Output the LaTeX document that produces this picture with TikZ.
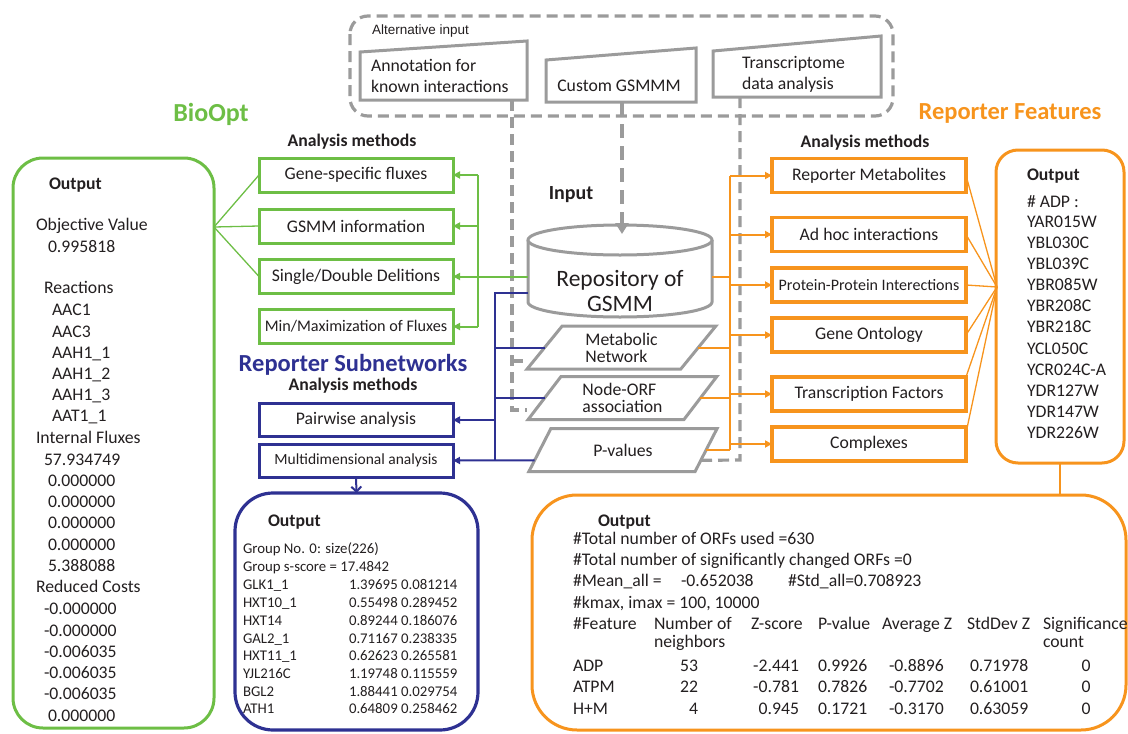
\documentclass[tikz,border=0pt]{standalone}
\usepackage{fontspec}
\setmainfont{Carlito}
\newfontfamily\arialfont{Liberation Sans}
\usetikzlibrary{arrows.meta,shapes.geometric,calc}
\definecolor{cgreen}{HTML}{6DBE45}
\definecolor{corange}{HTML}{F7941D}
\definecolor{cblue}{HTML}{2E3192}
\definecolor{cgray}{HTML}{9B9B9B}
\definecolor{ctext}{HTML}{231F20}
\newcommand\myfs[1]{\fontsize{#1}{#1}\selectfont}
\begin{document}
\begin{tikzpicture}[x=1pt,y=-1pt,
  every node/.style={text=ctext, inner sep=0pt, outer sep=0pt},
  txt/.style={anchor=west, font=\myfs{17.7}, text height=14pt, text depth=3pt},
  txte/.style={txt, anchor=east},
  txtc/.style={txt, anchor=center},
  btxt/.style={anchor=west, font=\myfs{14.8}, text height=11.5pt, text depth=2.5pt},
  head/.style={font=\myfs{17.7}\bfseries},
  gbox/.style={draw=cgreen, line width=3pt, minimum width=194pt, minimum height=34pt, font=\myfs{17.7}},
  obox/.style={draw=corange, line width=3.2pt, minimum width=194pt, minimum height=34pt, font=\myfs{17.7}},
  bbox/.style={draw=cblue, line width=3pt, minimum width=194pt, minimum height=33pt, font=\myfs{17.7}},
  para/.style={trapezium, trapezium left angle=54, trapezium right angle=126, trapezium stretches=true,
    draw=cgray, line width=3pt, minimum width=189pt, minimum height=43pt, align=left,
    font=\fontsize{17.7}{17}\selectfont, fill=white},
  outbox/.style={line width=3pt, fill=none},
  gdash/.style={draw=cgray, line width=3.2pt, dash pattern=on 11pt off 6pt},
  inshape/.style={draw=cgray, line width=3pt, fill=white},
  gcon/.style={draw=cgreen, line width=2pt},
  garr/.style={gcon, -{Triangle[length=7pt,width=7pt]}},
  gthin/.style={draw=cgreen, line width=1.3pt},
  ocon/.style={draw=corange, line width=2pt},
  oarr/.style={ocon, -{Triangle[length=7pt,width=7pt]}},
  othin/.style={draw=corange, line width=1.3pt},
  bcon/.style={draw=cblue, line width=2pt},
  barr/.style={bcon, -{Triangle[length=7pt,width=7pt]}},
  cyl/.style={draw=cgray, line width=3pt, fill=white}
]
\useasboundingbox (0,0) rectangle (1128,734);

% ---------- alternative input ----------
\draw[inshape] (360,52) -- (527,41) -- (527,100) -- (360,100) -- cycle;
\draw[inshape] (546,60) -- (696,48) -- (696,102) -- (546,102) -- cycle;
\draw[inshape] (713,51) -- (881,36) -- (881,97) -- (713,97) -- cycle;
\node[txt] (ann1) at (371,66) {Annotation for};
\node[txt] (ann2) at (371,87) {known interactions};
\node[txtc] (cust) at (619,86) {Custom GSMMM};
\node[txt] (tr1) at (742,63) {Transcriptome};
\node[txt] (tr2) at (742,84) {data analysis};
\node[anchor=west, font=\arialfont\myfs{13.5}] (alt) at (372,31) {Alternative input};
\draw[gdash, rounded corners=18pt] (350,16) rectangle (893,116);

% ---------- titles ----------
\node[font=\myfs{26}\bfseries, text=cgreen] (bioopt) at (211,114) {BioOpt};
\node[font=\myfs{24.5}\bfseries, text=corange] (repfeat) at (1010,113) {Reporter Features};
\node[font=\myfs{24.5}\bfseries, text=cblue] (repsub) at (353,365) {Reporter Subnetworks};
\node[head] (amg) at (352,142) {Analysis methods};
\node[head] (amb) at (353,386) {Analysis methods};
\node[head] (amo) at (865,143) {Analysis methods};
\node[font=\myfs{20}\bfseries] (input) at (571,195) {Input};

% ---------- central input ----------
\node[minimum width=184pt, minimum height=62pt] (repo) at (620,271) {};
\node[para] (met) at (621.5,347.5) {Metabolic\\Network};
\node[para] (nodeorf) at (622.5,398) {Node-ORF\\association};
\node[para] (pval) at (623,450) {P-values};

% dashed input lines
\coordinate (annb) at (512,100);
\coordinate (dl1) at (512,361);
\coordinate (dl2) at (512,410);
\draw[gdash] (annb) -- (dl2) -- ++(15,0);
\draw[gdash] (dl1) -- ++(15,0);
\coordinate (trb) at (740,97);
\coordinate (trc) at (740,460);
\draw[gdash] (trb) -- (trc) -- ($(pval.bottom right corner)!0.26!(pval.top right corner)$);
\coordinate (custb) at (622,102);
\draw[gdash, line width=4pt, dash pattern=on 14pt off 8pt] (custb) -- (622,224);

% cylinder
\draw[cyl] (repo.north west) -- (repo.south west) arc[start angle=180, end angle=360, x radius=92pt, y radius=15pt] -- (repo.north east);
\draw[cyl] (repo.north) ellipse[x radius=92pt, y radius=15pt];
\node[align=center, font=\fontsize{23.5}{25}\selectfont] (repotxt) at (620,291) {Repository of\\GSMM};
\draw[draw=cgray, line width=4pt, -{Triangle[length=11pt,width=13pt]}] (622,222) -- (622,234);

% ---------- BioOpt boxes ----------
\node[gbox] (gene) at (356,175) {Gene-specific fluxes};
\node[gbox] (gsmm) at (356,226) {GSMM information};
\node[gbox] (single) at (356,276.5) {Single/Double Delitions};
\node[gbox, font=\myfs{16.2}] (mm) at (356,326.5) {Min/Maximization of Fluxes};

% ---------- Reporter subnetworks boxes ----------
\node[bbox] (pair) at (356,420) {Pairwise analysis};
\node[bbox, font=\myfs{15.5}] (multi) at (356,460.5) {Multidimensional analysis};

% ---------- Reporter features boxes ----------
\node[obox] (rm) at (869,175.5) {Reporter Metabolites};
\node[obox] (ah) at (869,234.5) {Ad hoc interactions};
\node[obox, font=\myfs{16}] (ppi) at (869,285) {Protein-Protein Interections};
\node[obox] (go) at (869,335) {Gene Ontology};
\node[obox] (tf) at (869,394) {Transcription Factors};
\node[obox] (cx) at (869,444) {Complexes};

% ---------- output boxes ----------
\node[outbox, draw=cgreen, rounded corners=30pt, minimum width=201pt, minimum height=570pt] (gout) at (113.5,443) {};
\node[outbox, draw=corange, rounded corners=22pt, minimum width=128pt, minimum height=313pt] (rout) at (1060,306.5) {};
\node[outbox, draw=cblue, line width=3.2pt, rounded corners=38pt, minimum width=243pt, minimum height=237pt] (bout) at (356.5,611.5) {};
\node[outbox, draw=corange, rounded corners=45pt, minimum width=594pt, minimum height=235pt] (obig) at (829,612.5) {};

% ---------- green connectors ----------
\coordinate (gv) at (478,177);
\draw[gcon] (gene.east -| gv) -- (mm.east -| gv);
\foreach \n in {gene,gsmm,mm} \draw[garr] (\n.east -| gv) -- (\n.east);
\draw[garr] (repo.west |- single.east) -- (single.east);
\coordinate (gfan) at (214,227);
\foreach \n in {gene,gsmm,single} \draw[gthin] (gfan) -- (\n.west);

% ---------- blue connectors ----------
\coordinate (bv) at (495,293);
\draw[bcon] ($(repo.west)+(0,22)$) -- (bv) -- (bv |- multi.east);
\draw[bcon] (bv |- met.west) -- (met.west);
\draw[bcon] (bv |- nodeorf.west) -- (nodeorf.west);
\draw[barr] (bv |- pair.east) -- (pair.east);
\draw[barr] ($(pval.bottom left corner)!0.26!(pval.top left corner)$) -- (multi.east);
\draw[bcon, -{Straight Barb[length=5pt,width=10pt]}] (multi.south) -- (bout.north);

% ---------- orange connectors ----------
\coordinate (ov) at (730,176);
\draw[ocon] (ov) -- (pval.east -| ov);
\draw[ocon] (repo.east |- single.east) -- (ov |- single.east);
\draw[ocon] (met.east) -- (met.east -| ov);
\draw[ocon] (nodeorf.east) -- (nodeorf.east -| ov);
\draw[ocon] (pval.east) -- (pval.east -| ov);
\foreach \n in {rm,ah,ppi,go,tf,cx} \draw[oarr] (ov |- \n.west) -- (\n.west);
\coordinate (ofan) at (997,287);
\foreach \n in {rm.east,ah.east,ppi.east,go.east,tf.north east} \draw[othin] (\n) -- (ofan);
\draw[othin] ($(cx.north east)+(0,6)$) -- (ofan);
\draw[ocon] (rout.south) -- (rout.south |- obig.north);

% ---------- BioOpt output text ----------
\node[txt, font=\myfs{17.7}\bfseries] (gouth) at (49,184) {Output};
\foreach \x/\y/\t [count=\i] in {36/225/Objective Value, 48/247/0.995818, 44/288/Reactions,
  52/310/AAC1, 52/332/AAC3, 52/353/AAH1\_1, 52/374/AAH1\_2, 52/395/AAH1\_3, 52/416/AAT1\_1,
  36/438/Internal Fluxes, 44/460/57.934749, 48/481/0.000000, 48/502/0.000000, 48/523/0.000000,
  48/545/0.000000, 48/566/5.388088, 36/587/Reduced Costs, 44/609/-0.000000, 44/631/-0.000000,
  44/652/-0.006035, 44/673/-0.006035, 44/694/-0.006035, 48/716/0.000000}
  \node[txt] (gl\i) at (\x,\y) {\t};

% ---------- Reporter features side output ----------
\node[txt, font=\myfs{17.7}\bfseries] (routh) at (1027,175) {Output};
\foreach \y/\t [count=\i] in {202/\# ADP :, 222/YAR015W, 243/YBL030C, 264/YBL039C, 285/YBR085W,
  306/YBR208C, 327/YBR218C, 349/YCL050C, 370/YCR024C-A, 391/YDR127W, 412/YDR147W, 433/YDR226W}
  \node[txt] (rl\i) at (1027,\y) {\t};

% ---------- Reporter subnetworks output ----------
\node[txt, font=\myfs{17.7}\bfseries] (bouth) at (268,521) {Output};
\node[btxt] (bg1) at (243,549) {Group No. 0: size(226)};
\node[btxt] (bg2) at (243,567) {Group s-score = 17.4842};
\foreach \y/\a/\b [count=\i] in {585/GLK1\_1/1.39695 0.081214, 603/HXT10\_1/0.55498 0.289452,
  621/HXT14/0.89244 0.186076, 639/GAL2\_1/0.71167 0.238335, 656/HXT11\_1/0.62623 0.265581,
  674/YJL216C/1.19748 0.115559, 692/BGL2/1.88441 0.029754, 709/ATH1/0.64809 0.258462}
  {\node[btxt] (bnm\i) at (243,\y) {\a}; \node[btxt] (bval\i) at (349,\y) {\b};}

% ---------- Reporter features big output ----------
\node[txt, font=\myfs{17.7}\bfseries] (obigh) at (598,521) {Output};
\node[txt] (o1) at (573,539) {\#Total number of ORFs used =630};
\node[txt] (o2) at (573,560) {\#Total number of significantly changed ORFs =0};
\node[txt] (o3) at (573,581) {\#Mean\_all =};
\node[txt] (o3b) at (681,581) {-0.652038};
\node[txt] (o3c) at (788,581) {\#Std\_all=0.708923};
\node[txt] (o4) at (573,603) {\#kmax, imax = 100, 10000};
\node[txt] (h1) at (573,624) {\#Feature};
\node[txt] (h2) at (654,624) {Number of};
\node[txt] (h2b) at (654,642) {neighbors};
\node[txt] (h3) at (751,624) {Z-score};
\node[txt] (h4) at (818,624) {P-value};
\node[txt] (h5) at (882,624) {Average Z};
\node[txt] (h6) at (967,624) {StdDev Z};
\node[txt] (h7) at (1043,624) {Significance};
\node[txt] (h7b) at (1043,642) {count};
\foreach \y/\f/\n/\z/\p/\a/\s/\c [count=\i] in {666/ADP/53/-2.441/0.9926/-0.8896/0.71978/0,
  687/ATPM/22/-0.781/0.7826/-0.7702/0.61001/0, 709/H+M/4/0.945/0.1721/-0.3170/0.63059/0}
  {\node[txt] (rf\i) at (573,\y) {\f};
   \node[txte] (rn\i) at (698,\y) {\n};
   \node[txte] (rz\i) at (799,\y) {\z};
   \node[txt] (rp\i) at (818,\y) {\p};
   \node[txt] (ra\i) at (889,\y) {\a};
   \node[txt] (rs\i) at (970,\y) {\s};
   \node[txtc] (rc\i) at (1086,\y) {\c};}
\end{tikzpicture}
\end{document}
